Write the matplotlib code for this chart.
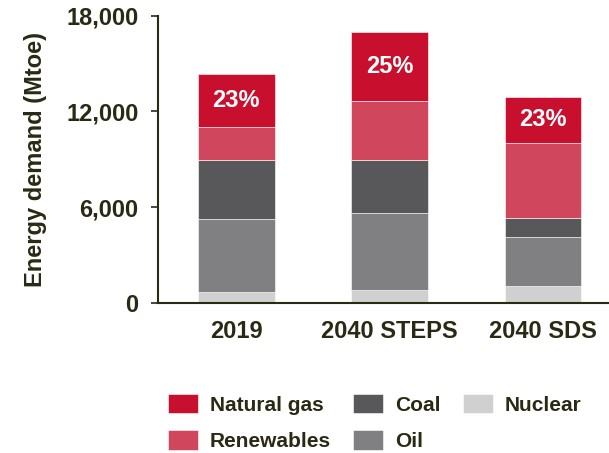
import matplotlib
matplotlib.use("Agg")
import matplotlib.pyplot as plt
import numpy as np

plt.rcParams['font.family'] = ['Liberation Sans', 'DejaVu Sans']
plt.rcParams['font.weight'] = 'bold'

categories = ["2019", "2040 STEPS", "2040 SDS"]
nuclear = [670, 840, 1090]
oil = [4570, 4820, 3020]
coal = [3710, 3290, 1230]
renewables = [2060, 3730, 4670]
natural_gas = [3320, 4320, 2920]
share_labels = ["23%", "25%", "23%"]
yticks = [0, 6000, 12000, 18000]

colors = {
    "Natural gas": "#C8102E",
    "Renewables": "#D0465C",
    "Coal": "#58585A",
    "Oil": "#808082",
    "Nuclear": "#D0D0D0",
}
text_color = "#2a2a14"

fig = plt.figure(figsize=(6.09, 4.53), dpi=100)
ax = fig.add_axes([158/609, 1-303/453, 1-158/609, (303-15.7)/453])

x = np.arange(len(categories))
w = 0.5
series = [("Nuclear", nuclear), ("Oil", oil), ("Coal", coal),
          ("Renewables", renewables), ("Natural gas", natural_gas)]
bottom = np.zeros(len(categories))
handles = {}
for name, vals in series:
    vals = np.array(vals, dtype=float)
    b = ax.bar(x, vals, w, bottom=bottom, color=colors[name], label=name,
               edgecolor='white', linewidth=0.4)
    handles[name] = b
    if name == "Natural gas":
        for xi, bi, vi, lab in zip(x, bottom, vals, share_labels):
            ax.text(xi, bi + vi/2, lab, ha='center', va='center',
                    color='white', fontsize=17, fontweight='bold')
    bottom = bottom + vals

ax.set_ylim(0, 18000)
ax.set_xlim(-0.51, 2.43)
ax.set_yticks(yticks)
ax.set_yticklabels([f"{v:,}" for v in yticks])
ax.set_xticks(x)
ax.set_xticklabels(categories)
ax.tick_params(axis='y', length=5, width=1.2, color=text_color, labelsize=17,
               labelcolor=text_color, pad=9)
ax.tick_params(axis='x', length=0, labelsize=17, labelcolor=text_color, pad=12)
for s in ['top', 'right']:
    ax.spines[s].set_visible(False)
for s in ['left', 'bottom']:
    ax.spines[s].set_color(text_color)
    ax.spines[s].set_linewidth(1.5)
ax.set_ylabel("Energy demand (Mtoe)", fontsize=17, color=text_color,
              fontweight='bold', labelpad=14)

order = ["Natural gas", "Renewables", "Coal", "Oil", "Nuclear"]
leg = fig.legend([handles[n] for n in order], order, ncol=3,
                 loc='upper left', bbox_to_anchor=(168/609, 1-394/453),
                 frameon=False, fontsize=15, handlelength=1.44,
                 handleheight=1.06, handletextpad=0.58, columnspacing=1.06,
                 labelspacing=0.75, borderpad=0, borderaxespad=0)
for t in leg.get_texts():
    t.set_color(text_color)
    t.set_fontweight('bold')

fig.savefig("out.png", dpi=100)
